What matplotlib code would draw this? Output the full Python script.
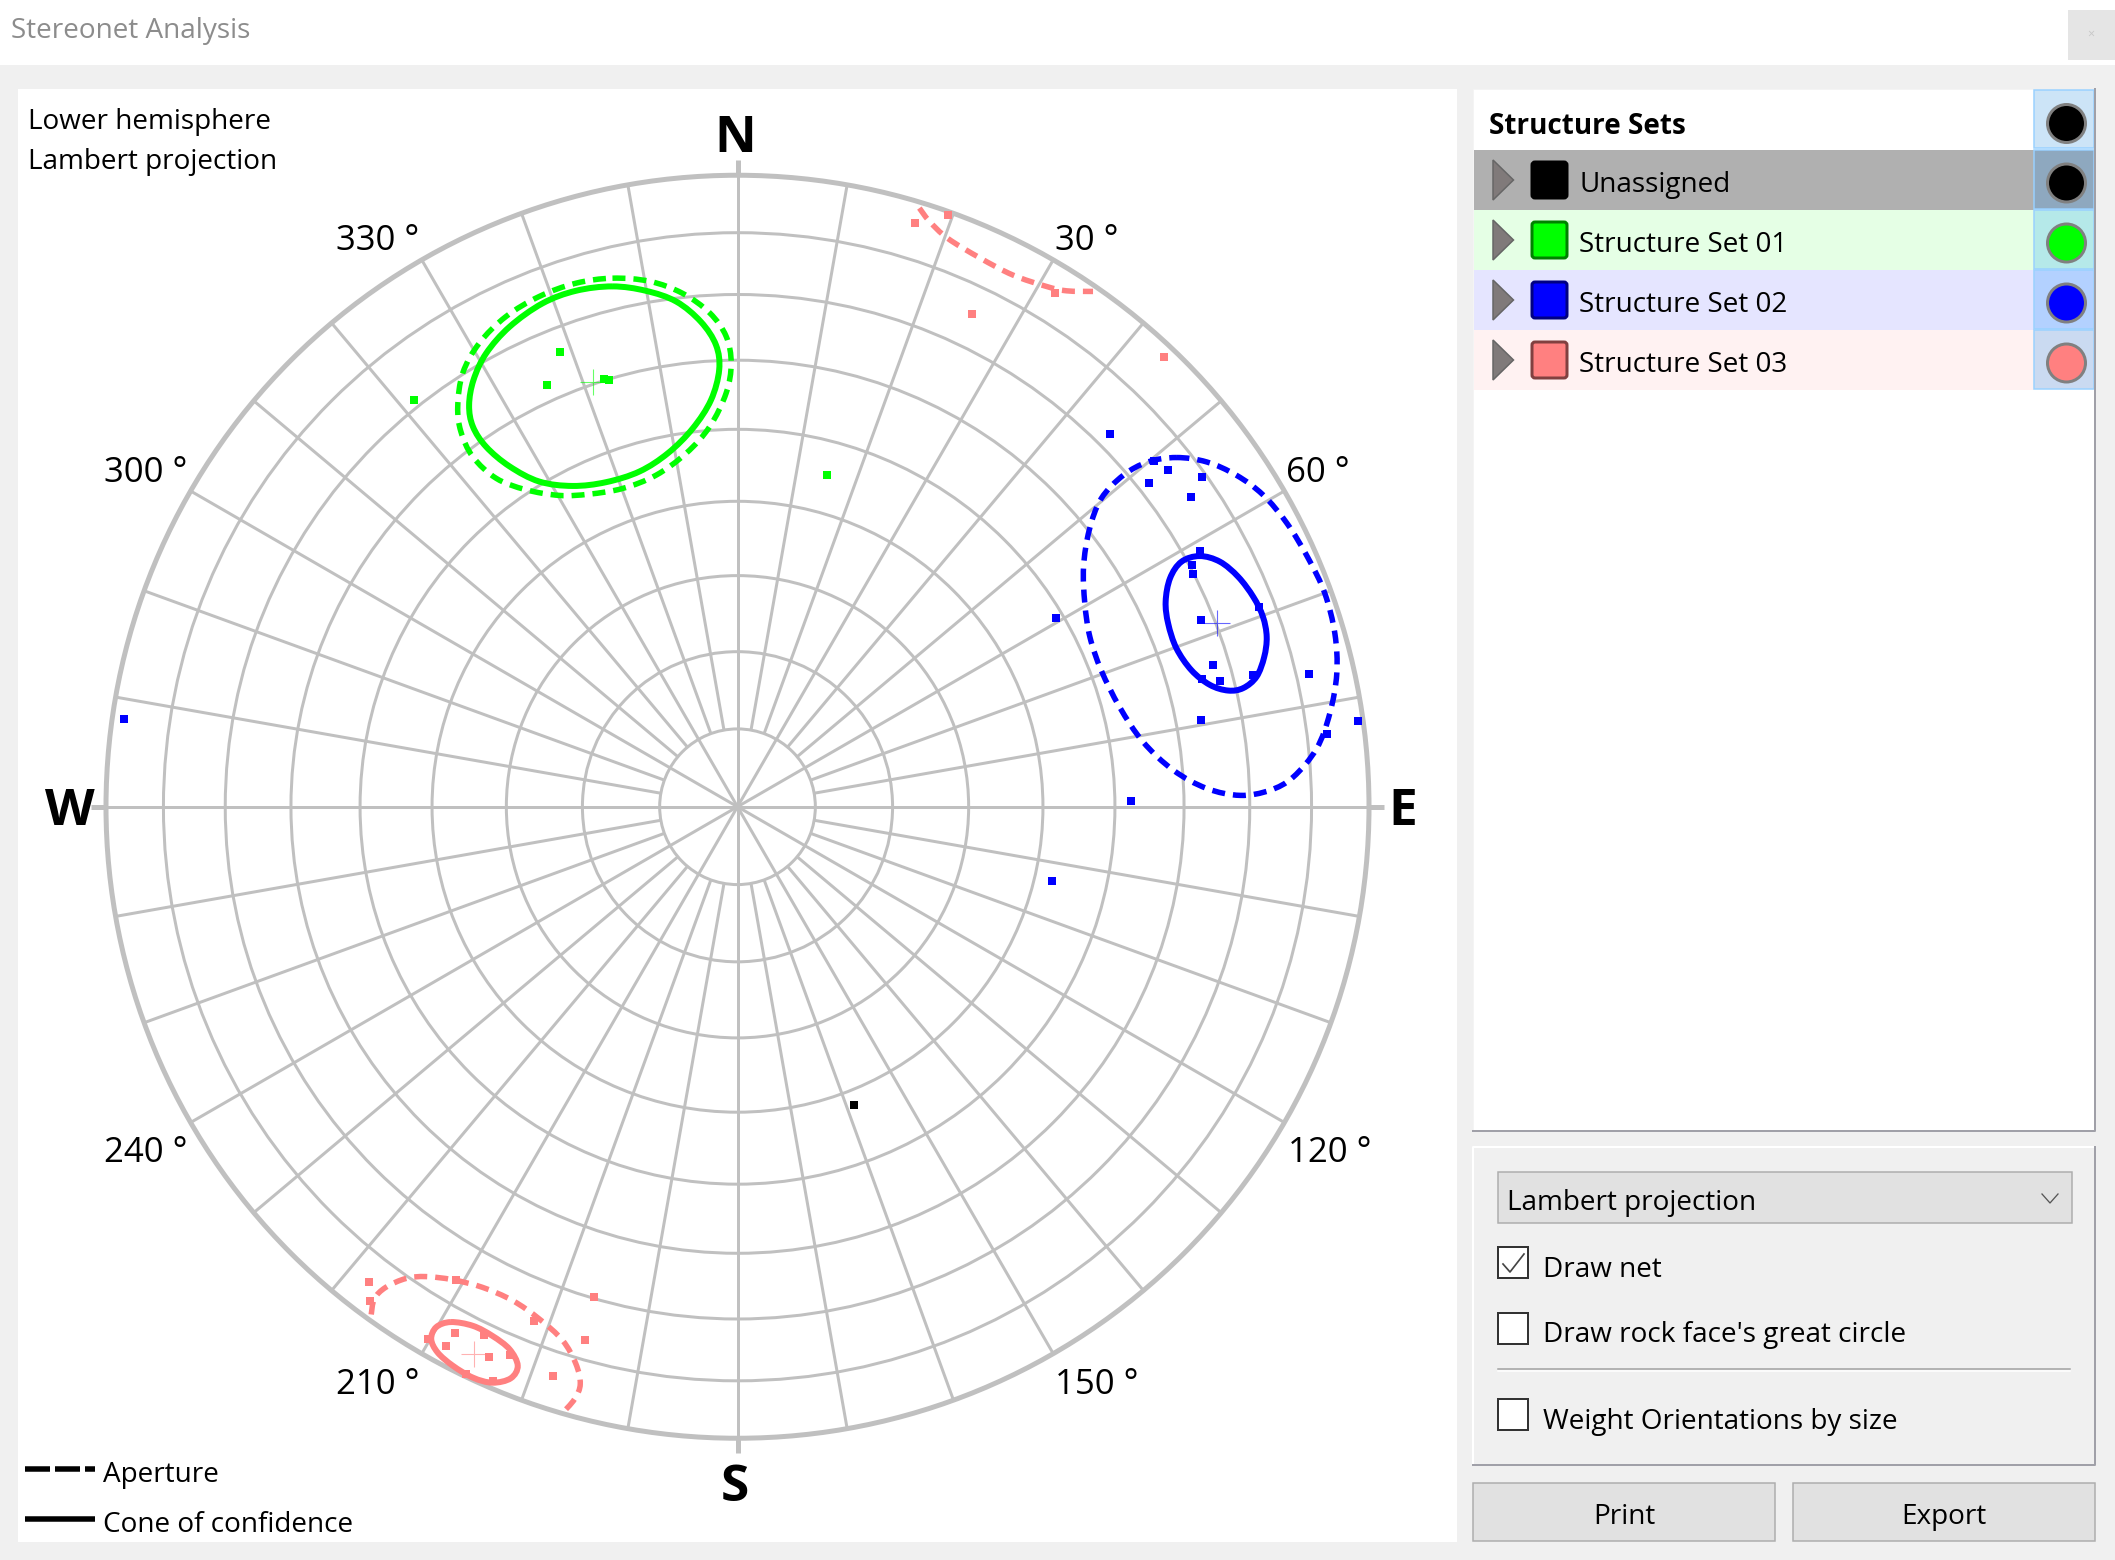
"""Stereonet Analysis window: lower hemisphere Lambert net with structure sets."""
from math import radians, sin, cos, sqrt

import matplotlib

matplotlib.use("Agg")
import matplotlib.pyplot as plt
from matplotlib.patches import Circle, FancyBboxPatch, PathPatch, Polygon, Rectangle
from matplotlib.path import Path

plt.rcParams["font.family"] = ["Open Sans", "DejaVu Sans"]
plt.rcParams["lines.scale_dashes"] = False

# net grid
RING_PLUNGES = [10, 20, 30, 40, 50, 60, 70, 80]
SPOKE_AZIMUTHS = list(range(0, 360, 10))
FULL_SPOKE_STEP = 30
CARDINALS = ["N", "E", "S", "W"]
DEGREE_LABELS = ["330 °", "30 °", "300 °", "60 °", "240 °", "120 °", "210 °", "150 °"]

# orientations, as east / north on a net of radius 1
UNASSIGNED_E = [0.184]
UNASSIGNED_N = [-0.473]

SET1_E = [-0.513, -0.281, -0.301, -0.211, -0.203, 0.141]
SET1_N = [0.644, 0.720, 0.668, 0.677, 0.675, 0.525]
SET1_MEAN = (-0.229, 0.672)

SET2_E = [0.590, 0.660, 0.682, 0.651, 0.735, 0.718, 0.732, 0.720, 0.722, 0.734, 0.826, 0.753,
          0.736, 0.764, 0.817, 0.905, 0.734, 0.982, 0.934, 0.623, -0.971, 0.504, 0.498]
SET2_N = [0.590, 0.548, 0.533, 0.513, 0.522, 0.490, 0.405, 0.383, 0.369, 0.295, 0.317, 0.225,
          0.203, 0.199, 0.208, 0.211, 0.137, 0.136, 0.115, 0.009, 0.139, 0.299, -0.118]
SET2_MEAN = (0.759, 0.291)

SET3_E = [-0.583, -0.582, -0.490, -0.448, -0.462, -0.401, -0.394, -0.361, -0.430, -0.387, -0.446,
          -0.322, -0.228, -0.242, -0.292, 0.281, 0.334, 0.372, 0.503, 0.675]
SET3_N = [-0.753, -0.782, -0.843, -0.833, -0.854, -0.836, -0.872, -0.868, -0.898, -0.909, -0.749,
          -0.814, -0.776, -0.844, -0.901, 0.925, 0.937, 0.781, 0.814, 0.712]
SET3_MEAN = (-0.418, -0.866)

# cone of confidence outlines
SET1_CONE = [(-0.198, 0.824), (-0.145, 0.817), (-0.097, 0.800), (-0.058, 0.768), (-0.034, 0.731),
             (-0.029, 0.692), (-0.042, 0.644), (-0.071, 0.599), (-0.110, 0.560), (-0.155, 0.531),
             (-0.208, 0.514), (-0.261, 0.508), (-0.314, 0.515), (-0.361, 0.539), (-0.398, 0.570),
             (-0.419, 0.602), (-0.425, 0.636), (-0.418, 0.676), (-0.398, 0.718), (-0.361, 0.760),
             (-0.309, 0.797), (-0.256, 0.817)]
SET2_CONE = [(0.732, 0.397), (0.764, 0.388), (0.793, 0.364), (0.817, 0.332), (0.832, 0.301),
             (0.838, 0.269), (0.834, 0.237), (0.822, 0.206), (0.801, 0.188), (0.777, 0.184),
             (0.748, 0.193), (0.719, 0.216), (0.695, 0.251), (0.682, 0.290), (0.678, 0.325),
             (0.685, 0.362), (0.703, 0.388)]
SET3_CONE = [(-0.454, -0.816), (-0.419, -0.822), (-0.388, -0.838), (-0.361, -0.859), (-0.348, -0.885),
             (-0.359, -0.905), (-0.388, -0.912), (-0.419, -0.904), (-0.451, -0.885), (-0.475, -0.864),
             (-0.485, -0.843), (-0.477, -0.824)]

# aperture outlines
SET1_APERTURE = [(-0.198, 0.837), (-0.139, 0.832), (-0.087, 0.813), (-0.044, 0.782), (-0.018, 0.745),
                 (-0.010, 0.702), (-0.018, 0.655), (-0.044, 0.602), (-0.081, 0.560), (-0.129, 0.525),
                 (-0.182, 0.504), (-0.235, 0.495), (-0.282, 0.493), (-0.335, 0.502), (-0.382, 0.520),
                 (-0.419, 0.554), (-0.438, 0.594), (-0.443, 0.634), (-0.435, 0.687), (-0.409, 0.734),
                 (-0.367, 0.776), (-0.314, 0.808), (-0.256, 0.829)]
SET2_APERTURE = [(0.695, 0.553), (0.743, 0.546), (0.790, 0.525), (0.832, 0.494), (0.870, 0.449),
                 (0.904, 0.393), (0.930, 0.338), (0.946, 0.274), (0.949, 0.211), (0.938, 0.148),
                 (0.917, 0.092), (0.880, 0.047), (0.843, 0.026), (0.796, 0.018), (0.743, 0.029),
                 (0.690, 0.058), (0.642, 0.103), (0.605, 0.158), (0.576, 0.216), (0.558, 0.269),
                 (0.550, 0.322), (0.548, 0.380), (0.557, 0.438), (0.576, 0.488), (0.611, 0.525),
                 (0.650, 0.546)]
SET3_APERTURE_SW = [(-0.580, -0.804), (-0.575, -0.779), (-0.557, -0.761), (-0.525, -0.747),
                    (-0.493, -0.744), (-0.451, -0.749), (-0.404, -0.761), (-0.356, -0.782),
                    (-0.314, -0.811), (-0.277, -0.845), (-0.256, -0.882), (-0.249, -0.914),
                    (-0.258, -0.938), (-0.279, -0.962)]
SET3_APERTURE_NE = [(0.288, 0.948), (0.304, 0.927), (0.333, 0.900), (0.384, 0.869), (0.436, 0.842),
                    (0.489, 0.824), (0.521, 0.817), (0.563, 0.816)]

# side panel
ROW_NAMES = ["Unassigned", "Structure Set 01", "Structure Set 02", "Structure Set 03"]
ROW_COLORS = ["#000000", "#00ff00", "#0000ff", "#ff8080"]
ROW_EDGES = ["#000000", "#008000", "#000080", "#804040"]
ROW_BACKS = ["#b0b0b0", "#e5ffe5", "#e5e5ff", "#fff2f2"]
ROW_BUTTONS = ["#8ea8bf", "#b5e9e9", "#b3d1ff", "#cadaf1"]
OPTION_LABELS = ["Draw net", "Draw rock face's great circle", "Weight Orientations by size"]
OPTION_CHECKED = [True, False, False]
BUTTON_LABELS = ["Print", "Export"]

W, H = 2115, 1560
CX, CY, R = 737.5, 806.75, 631.5
PX = 0.72  # points per pixel at dpi 100
GRID = "#c0c0c0"
UI_PT = 20.1
TEXT_DY = 4


def ring_radius(plunge):
    return sqrt(2) * sin(radians(plunge) / 2)


def smooth_path(points, closed=True):
    """Catmull-Rom through the read outline points, as Bezier segments."""
    n = len(points)
    verts = [points[0]]
    codes = [Path.MOVETO]
    for i in range(n if closed else n - 1):
        if closed:
            p0, p1, p2, p3 = points[i - 1], points[i], points[(i + 1) % n], points[(i + 2) % n]
        else:
            p0, p1, p2, p3 = points[max(i - 1, 0)], points[i], points[i + 1], points[min(i + 2, n - 1)]
        verts.append((p1[0] + (p2[0] - p0[0]) / 6, p1[1] + (p2[1] - p0[1]) / 6))
        verts.append((p2[0] - (p3[0] - p1[0]) / 6, p2[1] - (p3[1] - p1[1]) / 6))
        verts.append(p2)
        codes += [Path.CURVE4] * 3
    return Path(verts, codes)


def draw_outline(ax, points, color, closed=True, dashed=False):
    ls = (0, (13 * PX, 8 * PX)) if dashed else "-"
    lw = 5.5 if dashed else 6
    ax.add_patch(PathPatch(smooth_path(points, closed), fill=False, ec=color, lw=lw * PX,
                           ls=ls, capstyle="butt", zorder=4))


def draw_points(ax, east, north, color, mean=None):
    ax.scatter(east, north, marker="s", s=(8 * PX) ** 2, c=color, linewidths=0, zorder=5)
    if mean:
        ax.plot(*mean, marker="+", ms=26 * PX, mew=1.1 * PX, color=color, alpha=0.6, zorder=5)


def box(ui, x0, y0, x1, y1, fc, ec="none", lw=0, z=1):
    ui.add_patch(Rectangle((x0, y0), x1 - x0, y1 - y0, fc=fc, ec=ec, lw=lw * PX, zorder=z))


def label(ui, x, y, s, **kw):
    kw.setdefault("fontsize", UI_PT)
    kw.setdefault("va", "center")
    kw.setdefault("zorder", 3)
    ui.text(x, y + TEXT_DY, s, **kw)


fig = plt.figure(figsize=(W / 100, H / 100), dpi=100, facecolor="#f0f0f0")

# window chrome, side panel and captions share an axes in window pixels
ui = fig.add_axes([0, 0, 1, 1])
ui.set_xlim(0, W)
ui.set_ylim(H, 0)
ui.axis("off")

box(ui, 0, 0, W, 65, "white")
box(ui, 2068, 10, W, 60, "#e5e5e5")
label(ui, 2091, 30, "×", fontsize=9, color="#c8c8c8", ha="center")
label(ui, 11, 27, "Stereonet Analysis", color="#8c8c8c")

# chart panel
box(ui, 18, 89, 1457, 1542, "white")
label(ui, 28, 118, "Lower hemisphere")
label(ui, 28, 158, "Lambert projection")
ui.plot([25, 95], [1469, 1469], color="black", lw=5.5 * PX,
        ls=(0, (25 * PX, 5 * PX)), solid_capstyle="butt", dash_capstyle="butt")
ui.plot([25, 95], [1519, 1519], color="black", lw=5.5 * PX, solid_capstyle="butt")
label(ui, 103, 1471, "Aperture")
label(ui, 103, 1521, "Cone of confidence")

for name, x, y in zip(CARDINALS, [735, 1403, 735, 70], [135, 808, 1484, 808]):
    label(ui, x, y, name, fontsize=37, fontweight="bold", ha="center")
for name, x, y in zip(DEGREE_LABELS, [378, 1087, 146, 1318, 146, 1330, 378, 1097],
                      [237, 237, 469, 469, 1149, 1149, 1381, 1381]):
    label(ui, x, y, name, fontsize=25, ha="center")

# structure set list
box(ui, 1473, 89, 2095, 1131, "white", "#f4f4f4", 1)
ui.plot([2095, 2095, 1473], [89, 1131, 1131], color="#a0a0a8", lw=2 * PX)
label(ui, 1489, 122, "Structure Sets", fontweight="bold")
box(ui, 2034, 90, 2094, 148, "#cce4f7", "#99d1ff", 1.5)
ui.add_patch(Circle((2066.5, 123.5), 19, fc="black", ec="#808080", lw=3 * PX, zorder=3))
for i, name in enumerate(ROW_NAMES):
    y0 = 150 + 60 * i
    yc = y0 + 30
    box(ui, 1474, y0, 2034, y0 + 60, ROW_BACKS[i])
    box(ui, 2034, y0, 2094, y0 + 59, ROW_BUTTONS[i], "#99d1ff", 1.5)
    ui.add_patch(Polygon([(1493, yc - 20), (1513.5, yc), (1493, yc + 20)], fc="#807a7a", ec="#666666",
                         lw=1.5 * PX, zorder=3))
    ui.add_patch(FancyBboxPatch((1532, yc - 18), 35, 36, boxstyle="round,pad=0,rounding_size=3",
                                fc=ROW_COLORS[i], ec=ROW_EDGES[i], lw=3 * PX, zorder=3))
    label(ui, 1579, yc + 1, name)
    ui.add_patch(Circle((2066.5, yc + 3), 19, fc=ROW_COLORS[i], ec="#808080", lw=3 * PX, zorder=3))

# options panel
ui.plot([1473, 1473, 2095], [1465, 1147, 1147], color="white", lw=2 * PX)
ui.plot([2095, 2095, 1473], [1147, 1465, 1465], color="#a0a0a8", lw=2 * PX)
box(ui, 1498, 1172, 2072, 1223, "#e1e1e1", "#adadad", 1.5)
label(ui, 1507, 1199, "Lambert projection")
ui.plot([2042, 2050, 2058], [1194, 1203, 1194], color="#555555", lw=1.3 * PX, zorder=3)
for name, checked, y0, ty in zip(OPTION_LABELS, OPTION_CHECKED, [1247, 1313, 1399], [1266, 1331, 1418]):
    box(ui, 1498, y0, 1528, y0 + 31, "white", "#333333", 2)
    if checked:
        ui.plot([1503, 1510, 1524], [y0 + 17, y0 + 25, y0 + 7], color="#444444", lw=1.7 * PX, zorder=3)
    label(ui, 1543, ty, name)
ui.plot([1498, 2070], [1369, 1369], color="#a0a0a0", lw=1.5 * PX)
ui.plot([1498, 2070], [1371, 1371], color="white", lw=1.5 * PX)
for name, x0, x1 in zip(BUTTON_LABELS, [1473, 1793], [1775, 2095]):
    box(ui, x0, 1483, x1, 1541, "#e1e1e1", "#adadad", 1.5)
    label(ui, (x0 + x1) / 2, 1513, name, ha="center")

# the net itself, on axes in units of the net radius
margin = 25
span = R + margin
net = fig.add_axes([(CX - span) / W, 1 - (CY + span) / H, 2 * span / W, 2 * span / H])
net.set_xlim(-span / R, span / R)
net.set_ylim(-span / R, span / R)
net.axis("off")
net.patch.set_alpha(0)

for plunge in RING_PLUNGES:
    net.add_patch(Circle((0, 0), ring_radius(plunge), fill=False, ec=GRID, lw=3 * PX, zorder=1))
for az in SPOKE_AZIMUTHS:
    start = 0 if az % FULL_SPOKE_STEP == 0 else ring_radius(RING_PLUNGES[0])
    s, c = sin(radians(az)), cos(radians(az))
    net.plot([start * s, s], [start * c, c], color=GRID, lw=3 * PX, zorder=1, solid_capstyle="butt")
net.add_patch(Circle((0, 0), 1, fill=False, ec=GRID, lw=5 * PX, zorder=2))
# short ticks outside the rim at the four cardinal directions
for az in [0, 90, 180, 270]:
    s, c = sin(radians(az)), cos(radians(az))
    tip = 1 + 15 / R
    net.plot([s, tip * s], [c, tip * c], color=GRID, lw=5 * PX, zorder=2, solid_capstyle="butt")

draw_points(net, UNASSIGNED_E, UNASSIGNED_N, "#000000")
draw_points(net, SET1_E, SET1_N, "#00ff00", SET1_MEAN)
draw_points(net, SET2_E, SET2_N, "#0000ff", SET2_MEAN)
draw_points(net, SET3_E, SET3_N, "#ff8080", SET3_MEAN)

draw_outline(net, SET1_CONE, "#00ff00")
draw_outline(net, SET2_CONE, "#0000ff")
draw_outline(net, SET3_CONE, "#ff8080")
draw_outline(net, SET1_APERTURE, "#00ff00", dashed=True)
draw_outline(net, SET2_APERTURE, "#0000ff", dashed=True)
draw_outline(net, SET3_APERTURE_SW, "#ff8080", closed=False, dashed=True)
draw_outline(net, SET3_APERTURE_NE, "#ff8080", closed=False, dashed=True)

fig.savefig("out.png", dpi=100, facecolor=fig.get_facecolor())
